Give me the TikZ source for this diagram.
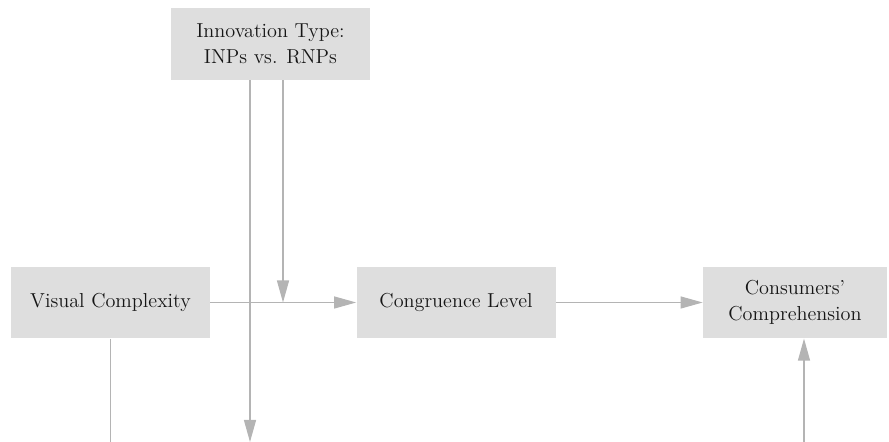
\documentclass[tikz,border=0pt]{standalone}
\usepackage{tikz}
\usetikzlibrary{arrows.meta}
\usepackage{xcolor}
\definecolor{boxgray}{RGB}{222,222,222}
\definecolor{linegray}{RGB}{180,180,180}
\definecolor{textgray}{RGB}{22,22,22}

\begin{document}
\begin{tikzpicture}[>={Triangle[length=4.4mm,width=2.4mm]},line cap=butt,
  factor/.style={fill=boxgray,text=textgray,minimum width=3.98cm,minimum height=1.43cm,
    align=center,inner sep=0pt,font=\fontsize{11.5}{15}\selectfont},
  link/.style={draw=linegray,line width=0.7pt}]
\useasboundingbox (0,0) rectangle (17.78,8.84);
% boxes
\node[factor] (innov) at (5.41,7.96) {Innovation Type:\\INPs vs. RNPs};
\node[factor] (visual) at (2.21,2.79) {Visual Complexity};
\node[factor] (congr) at (9.12,2.79) {Congruence Level};
\node[factor,minimum width=3.68cm] (compr) at (15.90,2.79) {Consumers'\\Comprehension};
% free ends at the lower edge
\coordinate (visualend) at (visual.south |- 0,0);
\coordinate (innovend) at ([xshift=-0.41cm]innov.south |- 0,0);
\coordinate (comprstart) at ([xshift=0.18cm]compr.south |- 0,0);
\coordinate (modpoint) at ([xshift=0.25cm]innov.south |- visual.east);
% connectors
\draw[link,->] (visual) -- (congr);
\draw[link,->] (congr) -- (compr);
\draw[link,->] ([xshift=0.25cm]innov.south) -- (modpoint);
\draw[link,->] ([xshift=-0.41cm]innov.south) -- (innovend);
\draw[link] (visual) -- (visualend);
\draw[link,->] (comprstart) -- ([xshift=0.18cm]compr.south);
\end{tikzpicture}
\end{document}
